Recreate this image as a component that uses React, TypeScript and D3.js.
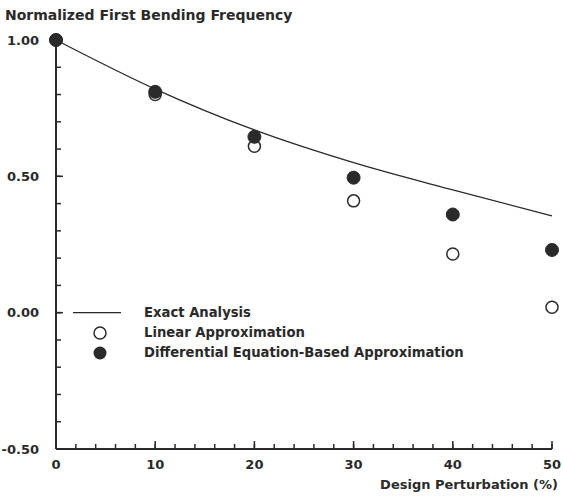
import React from 'react'
import * as d3 from 'd3'

const perturbation = [0, 10, 20, 30, 40, 50]
const exactValues = [1.0, 0.82, 0.67, 0.55, 0.45, 0.355]
const linearValues = [1.0, 0.8, 0.61, 0.41, 0.215, 0.02]
const diffEqValues = [1.0, 0.81, 0.645, 0.495, 0.36, 0.23]
const yTickValues = [1.0, 0.5, 0.0, -0.5]
const xTickValues = [0, 10, 20, 30, 40, 50]
const legendLabels = ['Exact Analysis', 'Linear Approximation', 'Differential Equation-Based Approximation']

const W = 563
const H = 496
const ink = '#2a2a2a'
const font = 'DejaVu Sans, Verdana, sans-serif'

const App = () => {
  const x = d3.scaleLinear().domain([0, 50]).range([56, 552])
  const y = d3.scaleLinear().domain([-0.5, 1.0]).range([449, 40])

  const exactLine = d3
    .line<number>()
    .x((d, i) => x(perturbation[i]))
    .y((d) => y(d))
    .curve(d3.curveMonotoneX)

  const xMinor = d3.range(0, 50.001, 2)
  const yMinor = d3.range(-0.5, 1.0001, 0.1)

  return (
    <svg width={W} height={H} style={{ position: 'absolute', left: 0, top: 0, background: '#fff' }}>
      <text x={5} y={20} fontFamily={font} fontWeight="bold" fontSize={14} fill={ink}>
        Normalized First Bending Frequency
      </text>

      {/* axes */}
      <line x1={x(0)} x2={x(0)} y1={y(1.0)} y2={y(-0.5)} stroke={ink} strokeWidth={2} />
      <line x1={x(0)} x2={x(50)} y1={y(-0.5)} y2={y(-0.5)} stroke={ink} strokeWidth={2} />

      {yMinor.map((v, i) => (
        <line key={'ym' + i} x1={x(0)} x2={x(0) + 5} y1={y(v)} y2={y(v)} stroke={ink} strokeWidth={1.5} />
      ))}
      {yTickValues.map((v) => (
        <g key={'yt' + v}>
          <line x1={x(0)} x2={x(0) + 7} y1={y(v)} y2={y(v)} stroke={ink} strokeWidth={1.5} />
          <text x={39} y={y(v)} dy="0.35em" textAnchor="end" fontFamily={font} fontWeight="bold" fontSize={13} fill={ink}>
            {d3.format('.2f')(v).replace('−', '-')}
          </text>
        </g>
      ))}

      {xMinor.map((v, i) => (
        <line key={'xm' + i} x1={x(v)} x2={x(v)} y1={y(-0.5)} y2={y(-0.5) - 5} stroke={ink} strokeWidth={1.5} />
      ))}
      {xTickValues.map((v) => (
        <g key={'xt' + v}>
          <line x1={x(v)} x2={x(v)} y1={y(-0.5)} y2={y(-0.5) - 8} stroke={ink} strokeWidth={1.5} />
          <text x={x(v)} y={469} textAnchor="middle" fontFamily={font} fontWeight="bold" fontSize={13} fill={ink}>
            {v}
          </text>
        </g>
      ))}
      <text x={558} y={489} textAnchor="end" fontFamily={font} fontWeight="bold" fontSize={13} fill={ink}>
        Design Perturbation (%)
      </text>

      {/* exact analysis curve */}
      <path d={exactLine(exactValues) || ''} fill="none" stroke={ink} strokeWidth={1.3} />

      {linearValues.map((v, i) => (
        <circle key={'lin' + i} cx={x(perturbation[i])} cy={y(v)} r={6} fill="#fff" stroke={ink} strokeWidth={1.5} />
      ))}
      {diffEqValues.map((v, i) => (
        <circle key={'de' + i} cx={x(perturbation[i])} cy={y(v)} r={6.5} fill={ink} stroke={ink} strokeWidth={1} />
      ))}

      {/* legend */}
      <line x1={73} x2={121} y1={y(0)} y2={y(0)} stroke={ink} strokeWidth={1.3} />
      <circle cx={100} cy={333} r={6} fill="#fff" stroke={ink} strokeWidth={1.5} />
      <circle cx={100} cy={353} r={6.5} fill={ink} />
      {legendLabels.map((t, i) => (
        <text key={t} x={144} y={y(0) + i * 20} dy="0.35em" fontFamily={font} fontWeight="bold" fontSize={13.2} fill={ink}>
          {t}
        </text>
      ))}
    </svg>
  )
}

export default App
